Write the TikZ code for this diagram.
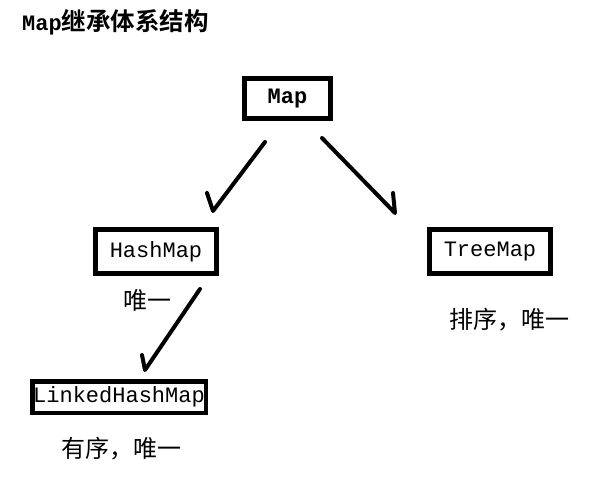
\documentclass[tikz,border=0pt]{standalone}
\usepackage{fontspec}
\newfontfamily\lat{Liberation Mono}
\newfontfamily\cjk{Noto Sans CJK SC}[BoldFont={Noto Sans CJK SC Bold}]
\begin{document}
\begin{tikzpicture}[x=1pt,y=-1pt,
  box/.style={draw=black,line width=5pt,inner sep=0pt,font=\lat\fontsize{22}{24}\selectfont},
  lbl/.style={inner sep=0pt,font=\cjk\fontsize{24}{26}\selectfont},
  conn/.style={draw=black,line width=4pt,line cap=round,line join=round}]
\fill[white] (0,0) rectangle (592,479);
\useasboundingbox (0,0) rectangle (592,479);
\node[anchor=west,inner sep=0pt] (title) at (22,22) {{\lat\bfseries\fontsize{22}{24}\selectfont Map}{\cjk\bfseries\fontsize{24.5}{26}\selectfont 继承体系结构}};
\node[box,minimum width=86pt,minimum height=40pt,font=\lat\bfseries\fontsize{22}{24}\selectfont] (map) at (287.5,98.5) {Map};
\node[box,minimum width=121pt,minimum height=44pt] (hash) at (156,251.5) {HashMap};
\node[box,minimum width=121pt,minimum height=44pt] (tree) at (490,251.5) {TreeMap};
\node[box,line width=4.5pt,minimum width=173.5pt,minimum height=31.5pt] (linked) at (119,397) {LinkedHashMap};
\node[lbl] (l1) at (147,300) {唯一};
\node[lbl] (l2) at (121,449) {有序，唯一};
\node[lbl] (l3) at (509,320) {排序，唯一};
\coordinate (a1s) at (265,142);
\coordinate (a1e) at (213,211);
\coordinate (a1b) at (207,193);
\coordinate (a2s) at (322,138);
\coordinate (a2e) at (395,213);
\coordinate (a2b) at (393,193);
\coordinate (a3s) at (200,289);
\coordinate (a3e) at (145,370);
\coordinate (a3b) at (142,355);
\draw[conn] (a1s) -- (a1e) -- (a1b);
\draw[conn] (a2s) -- (a2e) -- (a2b);
\draw[conn] (a3s) -- (a3e) -- (a3b);
\end{tikzpicture}
\end{document}
